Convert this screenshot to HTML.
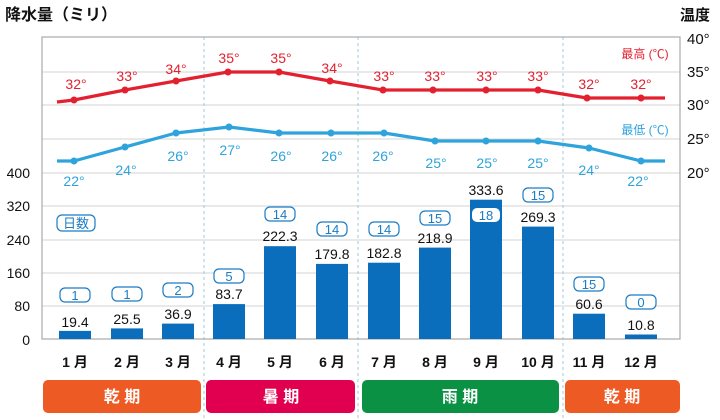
<!DOCTYPE html>
<html><head><meta charset="utf-8"><style>
body{margin:0;background:#fff}
svg{display:block;font-family:"Liberation Sans","Noto Sans CJK JP",sans-serif}
</style></head><body>
<svg width="720" height="420" viewBox="0 0 720 420">
<text x="5" y="20" font-size="16" font-weight="bold" fill="#111">降水量（ミリ）</text>
<text x="680" y="20" font-size="15" font-weight="bold" fill="#111">温度</text>
<g stroke="#dcdcdc" stroke-width="1.2">
<line x1="42" y1="72" x2="680" y2="72"/><line x1="42" y1="105" x2="680" y2="105"/>
<line x1="42" y1="139" x2="680" y2="139"/><line x1="42" y1="173" x2="680" y2="173"/>
<line x1="42" y1="206" x2="680" y2="206"/><line x1="42" y1="240" x2="680" y2="240"/>
<line x1="42" y1="273" x2="680" y2="273"/><line x1="42" y1="306" x2="680" y2="306"/>
</g>
<g stroke="#9cc9df" stroke-width="1" stroke-dasharray="3,3">
<line x1="204" y1="37" x2="204" y2="420"/><line x1="358" y1="37" x2="358" y2="420"/><line x1="563" y1="37" x2="563" y2="420"/>
</g>
<rect x="42" y="37" width="638" height="302" fill="none" stroke="#aaa" stroke-width="1.2"/>
<g font-size="14" fill="#111" text-anchor="end">
<text x="30" y="178">400</text><text x="30" y="211">320</text><text x="30" y="245">240</text>
<text x="30" y="278">160</text><text x="30" y="311">80</text><text x="30" y="345">0</text>
</g>
<g font-size="15" fill="#111">
<text x="687" y="44">40°</text><text x="687" y="77">35°</text><text x="687" y="110">30°</text>
<text x="687" y="144">25°</text><text x="687" y="178">20°</text>
</g>
<g fill="#0a6ebd">
<rect x="59" y="330.9" width="32" height="8.1"/><rect x="111" y="328.4" width="32" height="10.6"/>
<rect x="162" y="323.6" width="32" height="15.4"/><rect x="213" y="304.1" width="32" height="34.9"/>
<rect x="264" y="246.2" width="32" height="92.8"/><rect x="316" y="263.9" width="32" height="75.1"/>
<rect x="368" y="262.7" width="32" height="76.3"/><rect x="419" y="247.6" width="32" height="91.4"/>
<rect x="470" y="199.7" width="32" height="139.3"/><rect x="522" y="226.6" width="32" height="112.4"/>
<rect x="573" y="313.7" width="32" height="25.3"/><rect x="625" y="334.5" width="32" height="4.5"/>
</g>
<g font-size="14" fill="#111" text-anchor="middle">
<text x="75" y="327">19.4</text><text x="127" y="324">25.5</text><text x="178" y="319">36.9</text>
<text x="229" y="299">83.7</text><text x="280" y="241">222.3</text><text x="332" y="259">179.8</text>
<text x="384" y="258">182.8</text><text x="435" y="243">218.9</text><text x="486" y="195">333.6</text>
<text x="538" y="222">269.3</text><text x="589" y="309">60.6</text><text x="641" y="330">10.8</text>
</g>
<g fill="#fff" stroke="#1a7cc4" stroke-width="1.2">
<rect x="60" y="288" width="30" height="14" rx="5"/><rect x="112" y="287" width="30" height="14" rx="5"/>
<rect x="163" y="283" width="30" height="14" rx="5"/><rect x="214" y="269" width="30" height="14" rx="5"/>
<rect x="265" y="207" width="30" height="14" rx="5"/><rect x="317" y="222" width="30" height="14" rx="5"/>
<rect x="369" y="222" width="30" height="14" rx="5"/><rect x="420" y="211" width="30" height="14" rx="5"/>
<rect x="472" y="208" width="28" height="14" rx="5" stroke="none"/><rect x="523" y="188" width="30" height="14" rx="5"/>
<rect x="574" y="277" width="30" height="14" rx="5"/><rect x="626" y="295" width="30" height="14" rx="5"/>
<rect x="57" y="215" width="38" height="16" rx="5"/>
</g>
<g font-size="13" fill="#1a7cc4" text-anchor="middle">
<text x="75" y="300">1</text><text x="127" y="299">1</text><text x="178" y="295">2</text>
<text x="229" y="281">5</text><text x="280" y="219">14</text><text x="332" y="234">14</text>
<text x="384" y="234">14</text><text x="435" y="223">15</text><text x="486" y="220">18</text>
<text x="538" y="200">15</text><text x="589" y="289">15</text><text x="641" y="307">0</text>
<text x="76" y="228">日数</text>
</g>
<polyline fill="none" stroke="#e3202f" stroke-width="3.2" stroke-linejoin="round" points="57,102 74,100 125,90 176,81 228,72 279,72 330,81 383,90 433,90 486,90 538,90 587,98 641,98 665,98"/>
<g fill="#e3202f">
<circle cx="74" cy="100" r="3.5"/><circle cx="125" cy="90" r="3.5"/><circle cx="176" cy="81" r="3.5"/><circle cx="228" cy="72" r="3.5"/>
<circle cx="279" cy="72" r="3.5"/><circle cx="330" cy="81" r="3.5"/><circle cx="383" cy="90" r="3.5"/><circle cx="433" cy="90" r="3.5"/>
<circle cx="486" cy="90" r="3.5"/><circle cx="538" cy="90" r="3.5"/><circle cx="587" cy="98" r="3.5"/><circle cx="641" cy="98" r="3.5"/>
</g>
<g font-size="14" fill="#e3202f" text-anchor="middle">
<text x="76" y="89">32°</text><text x="127" y="81">33°</text><text x="176" y="74">34°</text><text x="229" y="63">35°</text>
<text x="281" y="63">35°</text><text x="332" y="73">34°</text><text x="384" y="81">33°</text><text x="435" y="81">33°</text>
<text x="487" y="81">33°</text><text x="538" y="81">33°</text><text x="589" y="89">32°</text><text x="641" y="89">32°</text>
<text x="645" y="58" font-size="12" text-anchor="middle">最高 (℃)</text>
</g>
<polyline fill="none" stroke="#2ea3dc" stroke-width="3.2" stroke-linejoin="round" points="57,161 74,161 125,147 176,133 229,127 279,133 331,133 384,133 435,141 486,141 538,141 589,148 641,161 665,161"/>
<g fill="#2ea3dc">
<circle cx="74" cy="161" r="3.5"/><circle cx="125" cy="147" r="3.5"/><circle cx="176" cy="133" r="3.5"/><circle cx="229" cy="127" r="3.5"/>
<circle cx="279" cy="133" r="3.5"/><circle cx="331" cy="133" r="3.5"/><circle cx="384" cy="133" r="3.5"/><circle cx="435" cy="141" r="3.5"/>
<circle cx="486" cy="141" r="3.5"/><circle cx="538" cy="141" r="3.5"/><circle cx="589" cy="148" r="3.5"/><circle cx="641" cy="161" r="3.5"/>
</g>
<g font-size="14" fill="#2ea3dc" text-anchor="middle">
<text x="74" y="186">22°</text><text x="126" y="175">24°</text><text x="178" y="161">26°</text><text x="230" y="155">27°</text>
<text x="281" y="161">26°</text><text x="332" y="161">26°</text><text x="383" y="161">26°</text><text x="436" y="168">25°</text>
<text x="487" y="168">25°</text><text x="538" y="168">25°</text><text x="589" y="175">24°</text><text x="638" y="186">22°</text>
<text x="645" y="134" font-size="12">最低 (℃)</text>
</g>
<g font-size="14" font-weight="bold" fill="#111" text-anchor="middle">
<text x="75" y="367">1 月</text><text x="127" y="367">2 月</text><text x="178" y="367">3 月</text><text x="229" y="367">4 月</text>
<text x="280" y="367">5 月</text><text x="332" y="367">6 月</text><text x="384" y="367">7 月</text><text x="435" y="367">8 月</text>
<text x="486" y="367">9 月</text><text x="538" y="367">10 月</text><text x="589" y="367">11 月</text><text x="641" y="367">12 月</text>
</g>
<rect x="43" y="380" width="158" height="33" rx="5" fill="#ee5a24"/>
<rect x="206" y="380" width="149" height="33" rx="5" fill="#e1004f"/>
<rect x="362" y="380" width="197" height="33" rx="5" fill="#0a9143"/>
<rect x="565" y="380" width="115" height="33" rx="5" fill="#ee5a24"/>
<g font-size="16" font-weight="bold" fill="#fff" text-anchor="middle">
<text x="122" y="402">乾 期</text><text x="281" y="402">暑 期</text><text x="460" y="402">雨 期</text><text x="622" y="402">乾 期</text>
</g>
</svg>
</body></html>
